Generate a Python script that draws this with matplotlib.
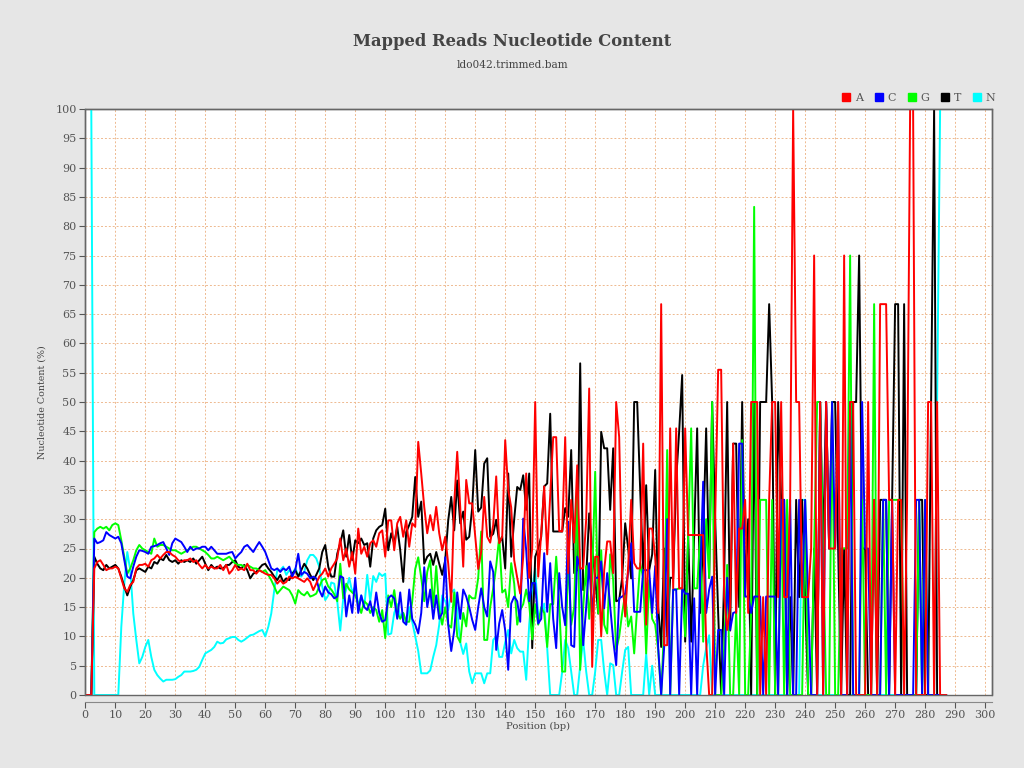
import matplotlib
matplotlib.use("Agg")
import matplotlib.pyplot as plt
from matplotlib.lines import Line2D
from matplotlib.patches import Rectangle

# nucleotide content (%) per read position, positions 0..287
content_a = [
    0, 0, 0, 21.6, 22.7, 23.0, 22.2, 21.3, 21.6, 21.6,
    21.9, 21.6, 19.9, 18.2, 17.6, 18.8, 19.3, 21.6, 22.2, 22.2,
    22.4, 21.9, 23.0, 23.3, 23.9, 23.3, 23.9, 24.4, 24.4, 23.9,
    23.6, 23.0, 22.7, 23.0, 23.0, 23.3, 22.7, 23.0, 22.2, 21.6,
    22.2, 21.6, 21.9, 21.6, 21.6, 22.2, 21.3, 22.2, 20.7, 21.3,
    22.2, 21.3, 21.6, 21.3, 22.4, 21.3, 21.3, 20.7, 21.3, 21.0,
    20.7, 20.5, 20.5, 19.9, 19.0, 19.6, 19.0, 19.3, 20.2, 19.9,
    20.2, 19.9, 19.6, 19.3, 19.9, 19.3, 17.9, 19.0, 20.2, 20.7,
    21.6, 20.2, 21.6, 22.4, 23.3, 26.7, 23.0, 25.0, 21.9, 24.4,
    20.7, 28.4, 24.1, 25.3, 23.6, 25.9, 26.4, 25.3, 27.6, 28.1,
    23.6, 29.8, 29.8, 24.7, 29.3, 30.4, 27.0, 29.8, 25.3, 29.3,
    28.7, 43.2, 37.8, 32.1, 27.6, 30.7, 28.1, 32.1, 27.6, 24.7,
    27.0, 22.4, 15.9, 32.7, 41.5, 32.1, 21.9, 36.7, 32.7, 32.7,
    27.0, 21.5, 24.5, 33.8, 27.0, 26.0, 29.0, 37.3, 25.9, 27.0,
    43.5, 35.0, 32.0, 23.0, 20.0, 17.3, 23.6, 37.8, 20.0, 25.0,
    50.0, 20.2, 27.6, 35.6, 24.0, 34.0, 44.0, 44.0, 28.0, 27.9,
    44.0, 20.8, 33.3, 26.0, 39.2, 21.6, 21.6, 30.0, 52.3, 4.8,
    23.6, 23.6, 10.0, 21.3, 26.2, 26.2, 20.8, 50.0, 44.0, 20.2,
    13.4, 22.0, 33.3, 22.5, 21.6, 21.6, 42.9, 12.0, 28.4, 28.4,
    23.6, 14.0, 66.7, 8.5, 8.5, 45.5, 18.2, 45.5, 18.2, 18.2,
    45.5, 27.3, 27.3, 27.3, 27.3, 27.3, 27.3, 9.0, 0, 0,
    30.0, 55.5, 55.5, 16.8, 11.1, 15.0, 42.9, 14.0, 28.4, 28.4,
    33.3, 14.0, 50, 50, 50, 0, 16.7, 0, 33.3, 50,
    50, 16.7, 50, 16.7, 16.7, 33.3, 100, 50, 50, 16.7,
    16.7, 16.7, 25, 75, 0, 50, 0, 50, 25, 25,
    25, 50, 0, 75, 0, 50, 50, 0, 0, 0,
    0, 50, 0, 33.3, 0, 66.7, 66.7, 66.7, 33.3, 33.3,
    0, 33.3, 33.3, 0, 33.3, 100, 100, 0, 0, 0,
    0, 50, 50, 0, 50, 0, 0, 0,
]

content_c = [
    0, 0, 0, 26.7, 25.9, 26.1, 26.4, 27.8, 27.3, 27.0,
    26.7, 27.0, 25.9, 23.0, 20.2, 19.9, 21.9, 23.6, 24.7, 24.6,
    24.4, 24.1, 25.3, 25.4, 25.6, 25.9, 26.1, 25.0, 23.9, 25.9,
    26.7, 26.4, 26.1, 25.3, 24.4, 25.3, 24.7, 25.0, 25.0, 25.3,
    25.3, 24.7, 25.3, 24.7, 24.1, 24.1, 24.1, 24.1, 24.3, 24.4,
    23.3, 23.9, 24.4, 25.3, 25.6, 25.0, 24.4, 25.3, 26.1, 25.3,
    24.4, 23.0, 21.6, 21.3, 21.6, 21.0, 21.6, 21.3, 21.9, 20.2,
    21.3, 24.1, 20.5, 21.0, 20.7, 19.9, 20.2, 19.9, 17.9, 16.8,
    18.5, 17.5, 17.2, 16.5, 16.8, 20.3, 20.0, 13.4, 17.0, 14.0,
    20.0, 14.0, 17.0, 15.0, 14.5, 16.0, 13.5, 17.5, 14.0, 12.5,
    12.8, 16.5, 17.0, 16.5, 13.0, 17.5, 12.5, 12.0, 18.0, 13.0,
    12.0, 10.5, 14.0, 21.8, 15.0, 18.0, 13.0, 17.0, 13.0, 14.0,
    23.5, 12.0, 7.5, 11.0, 17.5, 13.0, 18.0, 16.8, 15.0, 12.8,
    11.1, 15.0, 18.2, 15.0, 13.4, 22.8, 21.0, 7.7, 12.2, 14.5,
    11.0, 4.3, 15.6, 16.8, 16.0, 12.5, 30.1, 24.7, 16.0, 19.1,
    19.1, 12.2, 13.0, 24.2, 14.2, 22.5, 13.0, 8.0, 20.8, 15.0,
    11.9, 29.6, 8.5, 8.2, 23.6, 21.6, 8.5, 15.0, 22.5, 14.2,
    20.0, 20.0, 22.8, 14.8, 20.8, 15.0, 9.4, 5.1, 16.5, 16.8,
    17.3, 21.0, 25.9, 14.2, 14.2, 14.2, 21.3, 21.3, 21.3, 14.0,
    22.0, 8.2, 0, 8.2, 30.0, 0, 18.0, 18.0, 0, 18.2,
    17.3, 17.3, 0, 16.5, 0, 20.0, 36.4, 14.0, 18.0, 20.2,
    0, 11.1, 11.1, 0, 20.0, 11.1, 14.0, 14.2, 42.9, 42.9,
    16.8, 16.8, 14.0, 16.8, 16.8, 16.8, 0, 16.8, 16.8, 16.8,
    16.8, 0, 33.3, 33.3, 0, 33.3, 0, 0, 33.3, 16.7,
    33.3, 16.7, 0, 0, 0, 50, 0, 50, 25, 50,
    25, 50, 0, 0, 0, 50, 0, 0, 0, 50,
    25, 25, 0, 0, 0, 0, 33.3, 33.3, 0, 33.3,
    0, 0, 0, 0, 0, 0, 0, 33.3, 33.3, 0,
    33.3, 0, 0, 0, 0, 0, 0, 0,
]

content_g = [
    0, 0, 0, 27.8, 28.4, 28.7, 28.4, 28.7, 28.1, 29.0,
    29.3, 29.0, 26.4, 23.6, 20.7, 21.6, 23.0, 24.7, 25.6, 25.0,
    24.7, 24.4, 24.1, 26.7, 25.3, 25.6, 25.6, 25.3, 25.0, 24.7,
    24.7, 24.4, 24.1, 24.4, 24.7, 25.0, 25.3, 25.3, 25.0, 24.7,
    24.4, 23.9, 23.3, 23.3, 23.6, 23.3, 23.0, 23.3, 23.6, 23.0,
    22.4, 22.2, 22.2, 21.9, 22.2, 21.9, 21.6, 21.6, 21.3, 21.0,
    21.3, 20.5, 19.6, 18.5, 17.3, 17.9, 18.5, 18.2, 17.9, 17.0,
    15.6, 17.9, 17.3, 17.0, 17.6, 16.8, 17.0, 17.3, 18.5, 19.6,
    19.9, 18.5, 18.0, 17.2, 16.0, 22.4, 16.5, 19.0, 18.0, 17.5,
    17.0, 15.5, 14.0, 16.0, 15.5, 14.0, 15.0, 14.5, 12.5, 14.5,
    9.7, 17.0, 15.0, 17.9, 14.0, 13.0, 14.0, 12.5, 12.5, 16.0,
    21.5, 23.5, 20.0, 16.0, 21.0, 23.0, 15.0, 22.0, 14.5, 12.0,
    15.0, 12.0, 11.5, 17.5, 10.0, 9.0, 14.0, 11.7, 17.0, 16.5,
    16.5, 20.0, 27.9, 9.4, 9.4, 15.0, 18.2, 22.0, 27.0, 17.5,
    18.0, 15.0, 22.5, 19.0, 12.0, 14.5, 15.5, 18.0, 15.5, 9.5,
    15.5, 12.0, 15.0, 14.0, 8.2, 15.5, 15.5, 23.6, 15.5, 4.0,
    4.0, 24.0, 12.0, 15.0, 35.0, 4.3, 15.0, 22.0, 13.0, 20.0,
    38.1, 13.9, 24.7, 12.0, 10.5, 24.0, 19.6, 7.7, 10.0, 14.0,
    17.3, 11.7, 13.4, 7.1, 15.0, 22.5, 20.0, 7.1, 19.6, 13.0,
    12.0, 7.7, 0, 12.0, 41.8, 0, 18.0, 18.0, 18.2, 18.2,
    10.0, 27.3, 45.5, 18.2, 18.2, 27.3, 9.1, 30.0, 20.0, 50.0,
    0, 0, 0, 8.0, 22.2, 0, 0, 14.3, 0, 43.5,
    0, 0, 14.0, 83.3, 0, 33.3, 33.3, 33.3, 0, 33.3,
    0, 0, 33.3, 0, 33.3, 0, 0, 0, 0, 0,
    33.3, 0, 0, 25, 50, 50, 25, 0, 0, 50,
    0, 0, 25, 25, 25, 75, 0, 0, 0, 33.3,
    0, 0, 0, 66.7, 0, 0, 33.3, 0, 33.3, 33.3,
    33.3, 33.3, 33.3, 0, 0, 0, 0, 0, 33.3, 0,
    33.3, 0, 0, 0, 0, 0, 0, 0,
]

content_t = [
    0, 0, 0, 23.6, 22.4, 21.6, 21.3, 22.2, 21.6, 21.9,
    22.2, 21.6, 20.2, 18.5, 17.0, 18.5, 19.6, 21.3, 21.6, 21.3,
    21.0, 21.9, 21.6, 22.7, 22.4, 23.3, 23.0, 23.9, 23.0, 22.7,
    23.0, 22.4, 23.0, 22.7, 23.0, 22.7, 23.3, 22.4, 23.0, 23.6,
    22.4, 21.3, 22.2, 21.6, 21.9, 21.6, 21.6, 22.2, 22.2, 22.7,
    23.0, 21.9, 21.6, 22.2, 21.3, 19.9, 20.7, 21.0, 21.6, 22.2,
    22.4, 21.6, 21.0, 20.2, 19.6, 20.5, 19.3, 19.9, 19.6, 20.7,
    21.3, 20.2, 21.3, 22.4, 21.6, 20.5, 19.6, 20.5, 21.6, 24.4,
    25.6, 21.9, 20.2, 20.2, 24.1, 25.9, 28.1, 23.6, 27.3, 23.0,
    26.4, 25.9, 26.7, 25.6, 25.9, 21.9, 26.7, 28.1, 28.7, 29.0,
    31.8, 24.7, 27.6, 25.9, 28.7, 24.7, 19.3, 27.8, 29.0, 30.4,
    37.2, 30.4, 33.0, 22.4, 23.6, 24.1, 22.2, 24.4, 22.4, 20.5,
    23.0, 29.8, 33.8, 28.1, 36.6, 29.3, 31.3, 26.5, 27.0, 32.0,
    41.8, 31.3, 32.0, 39.5, 40.4, 27.0, 27.5, 29.9, 26.0, 27.0,
    21.6, 37.8, 23.6, 30.0, 35.5, 35.0, 37.5, 31.6, 37.8, 8.0,
    23.6, 25.0, 27.0, 35.6, 36.1, 48.0, 27.9, 27.9, 27.9, 27.9,
    31.9, 30.4, 41.8, 20.8, 21.3, 56.6, 17.9, 20.0, 31.0, 25.0,
    20.0, 13.9, 44.9, 42.1, 42.1, 31.6, 42.1, 16.0, 16.2, 20.0,
    29.3, 25.0, 19.9, 50.0, 50.0, 35.0, 21.3, 35.8, 21.3, 24.0,
    38.4, 15.0, 8.2, 25.0, 10.0, 20.0, 20.0, 36.7, 45.0, 54.6,
    9.1, 27.3, 9.1, 27.3, 45.5, 14.0, 27.0, 45.5, 20.0, 50.0,
    30.0, 14.0, 0, 20.0, 50.0, 11.0, 42.9, 42.9, 15.0, 50.0,
    18.0, 30.0, 0, 50.0, 0, 50.0, 50.0, 50.0, 66.7, 50.0,
    0, 50, 33.3, 33.3, 0, 16.7, 0, 33.3, 16.7, 33.3,
    16.7, 0, 0, 25, 0, 50, 25, 50, 25, 50,
    50, 25, 0, 25, 0, 0, 50, 50, 75, 25,
    25, 0, 0, 33.3, 0, 33.3, 33.3, 33.3, 0, 33.3,
    66.7, 66.7, 0, 66.7, 0, 0, 0, 0, 33.3, 33.3,
    0, 0, 50, 100, 0, 0, 0, 0,
]

content_n = [
    100, 100, 100, 0, 0, 0, 0, 0, 0, 0,
    0, 0, 11.6, 19.0, 24.4, 21.3, 13.9, 9.4, 5.4, 6.5,
    8.2, 9.4, 6.5, 4.3, 3.4, 2.8, 2.3, 2.6, 2.6, 2.6,
    2.7, 3.1, 3.4, 4.0, 4.0, 4.0, 4.1, 4.3, 4.8, 6.0,
    7.1, 7.4, 7.7, 8.2, 9.1, 8.8, 8.9, 9.5, 9.7, 9.9,
    9.9, 9.4, 9.1, 9.4, 9.8, 10.2, 10.3, 10.6, 10.9, 11.1,
    10.0, 11.6, 13.9, 17.9, 21.3, 21.3, 21.9, 20.5, 21.3, 20.7,
    21.6, 20.5, 20.2, 21.0, 23.0, 23.9, 23.9, 23.3, 21.9, 18.5,
    16.2, 17.0, 19.2, 19.0, 16.0, 11.0, 16.5, 18.0, 20.0, 17.5,
    18.5, 15.2, 17.0, 15.0, 20.5, 16.0, 20.3, 19.3, 20.8, 20.3,
    20.7, 10.3, 10.5, 14.0, 15.5, 13.5, 14.0, 12.0, 15.0, 12.5,
    10.0, 7.5, 3.7, 3.7, 3.7, 4.2, 6.5, 8.5, 12.0, 17.0,
    16.0, 14.5, 17.5, 18.0, 14.5, 9.0, 7.0, 8.8, 4.0, 2.0,
    3.7, 3.7, 3.7, 2.0, 3.7, 3.7, 9.4, 10.0, 6.5, 6.5,
    9.0, 11.1, 7.1, 9.4, 8.0, 7.4, 7.4, 2.6, 12.0, 18.0,
    21.6, 13.4, 14.0, 15.6, 8.0, 0, 0, 0, 0, 4.0,
    9.4, 8.0, 4.0, 0, 0, 5.0, 9.4, 4.0, 0, 0,
    4.0, 9.4, 9.4, 4.0, 0, 5.4, 5.1, 0, 0, 4.0,
    7.7, 8.2, 0, 0, 0, 0, 0, 7.1, 0, 5.0,
    0, 0, 0, 0, 0, 0, 0, 0, 0, 0,
    0, 0, 0, 0, 0, 0, 5.0, 8.0, 10.2, 0,
    0, 0, 0, 0, 0, 0, 0, 0, 0, 0,
    0, 0, 0, 0, 0, 0, 0, 0, 0, 0,
    0, 0, 0, 0, 0, 0, 0, 0, 0, 33.3,
    33.3, 0, 0, 0, 0, 0, 0, 0, 0, 0,
    0, 0, 0, 0, 0, 0, 0, 0, 0, 0,
    0, 0, 0, 0, 0, 0, 0, 0, 0, 0,
    0, 0, 0, 0, 0, 0, 0, 0, 33.3, 0,
    0, 0, 0, 0, 50, 100, 100, 100,
]

labels = ['A', 'C', 'G', 'T', 'N']
colors = ['#ff0000', '#0000ff', '#00ff00', '#000000', '#00ffff']
series = [content_a, content_c, content_g, content_t, content_n]
positions = list(range(len(content_a)))

plt.rcParams['font.family'] = ['DejaVu Serif']

fig = plt.figure(figsize=(10.24, 7.68), dpi=100)
fig.patch.set_facecolor('#e6e6e6')
ax = fig.add_axes([85 / 1024, 73 / 768, 907 / 1024, 586 / 768])
ax.set_facecolor('white')

# series 0 drawn on top, like the original renderer
for i, (lab, col, vals) in enumerate(zip(labels, colors, series)):
    ax.plot(positions, vals, color=col, lw=1.4, zorder=10 - i)

ax.set_xlim(-0.1, 302.3)
ax.set_ylim(0, 100)
ax.set_xticks(range(0, 301, 10))
ax.set_yticks(range(0, 101, 5))
ax.grid(True, color='#eeb98f', linestyle=(0, (2, 2)), linewidth=0.7)
ax.set_axisbelow(True)

for side in ['top', 'right', 'left']:
    ax.spines[side].set_color('#666666')
    ax.spines[side].set_linewidth(1.0)
ax.spines['bottom'].set_position(('outward', 5))
ax.spines['bottom'].set_color('#888888')
ax.add_patch(Rectangle((0, 0), 1, 1, transform=ax.transAxes, fill=False,
                       edgecolor='#666666', lw=1.0, zorder=20, clip_on=False))

ax.tick_params(axis='both', labelsize=8, colors='#555555', length=4, width=0.8, pad=2)
ax.set_xlabel('Position (bp)', fontsize=7.2, color='#444444', labelpad=1)
ax.set_ylabel('Nucleotide Content (%)', fontsize=6.8, color='#444444', labelpad=6)

fig.text(0.5, 1 - 42 / 768, 'Mapped Reads Nucleotide Content', ha='center', va='center',
         fontsize=11.8, fontweight='bold', color='#444444')
fig.text(0.5, 1 - 65 / 768, 'ldo042.trimmed.bam', ha='center', va='center',
         fontsize=7.6, color='#444444')

handles = [Line2D([], [], marker='s', linestyle='none', color=c, markersize=6) for c in colors]
fig.legend(handles, labels, loc='center right', bbox_to_anchor=(0.972, 1 - 98 / 768),
           ncol=5, frameon=False, fontsize=8, handlelength=0.8, handletextpad=0.4,
           columnspacing=1.0, labelcolor='#555555', borderaxespad=0, borderpad=0)

fig.savefig('out.png', dpi=100, facecolor=fig.get_facecolor())
